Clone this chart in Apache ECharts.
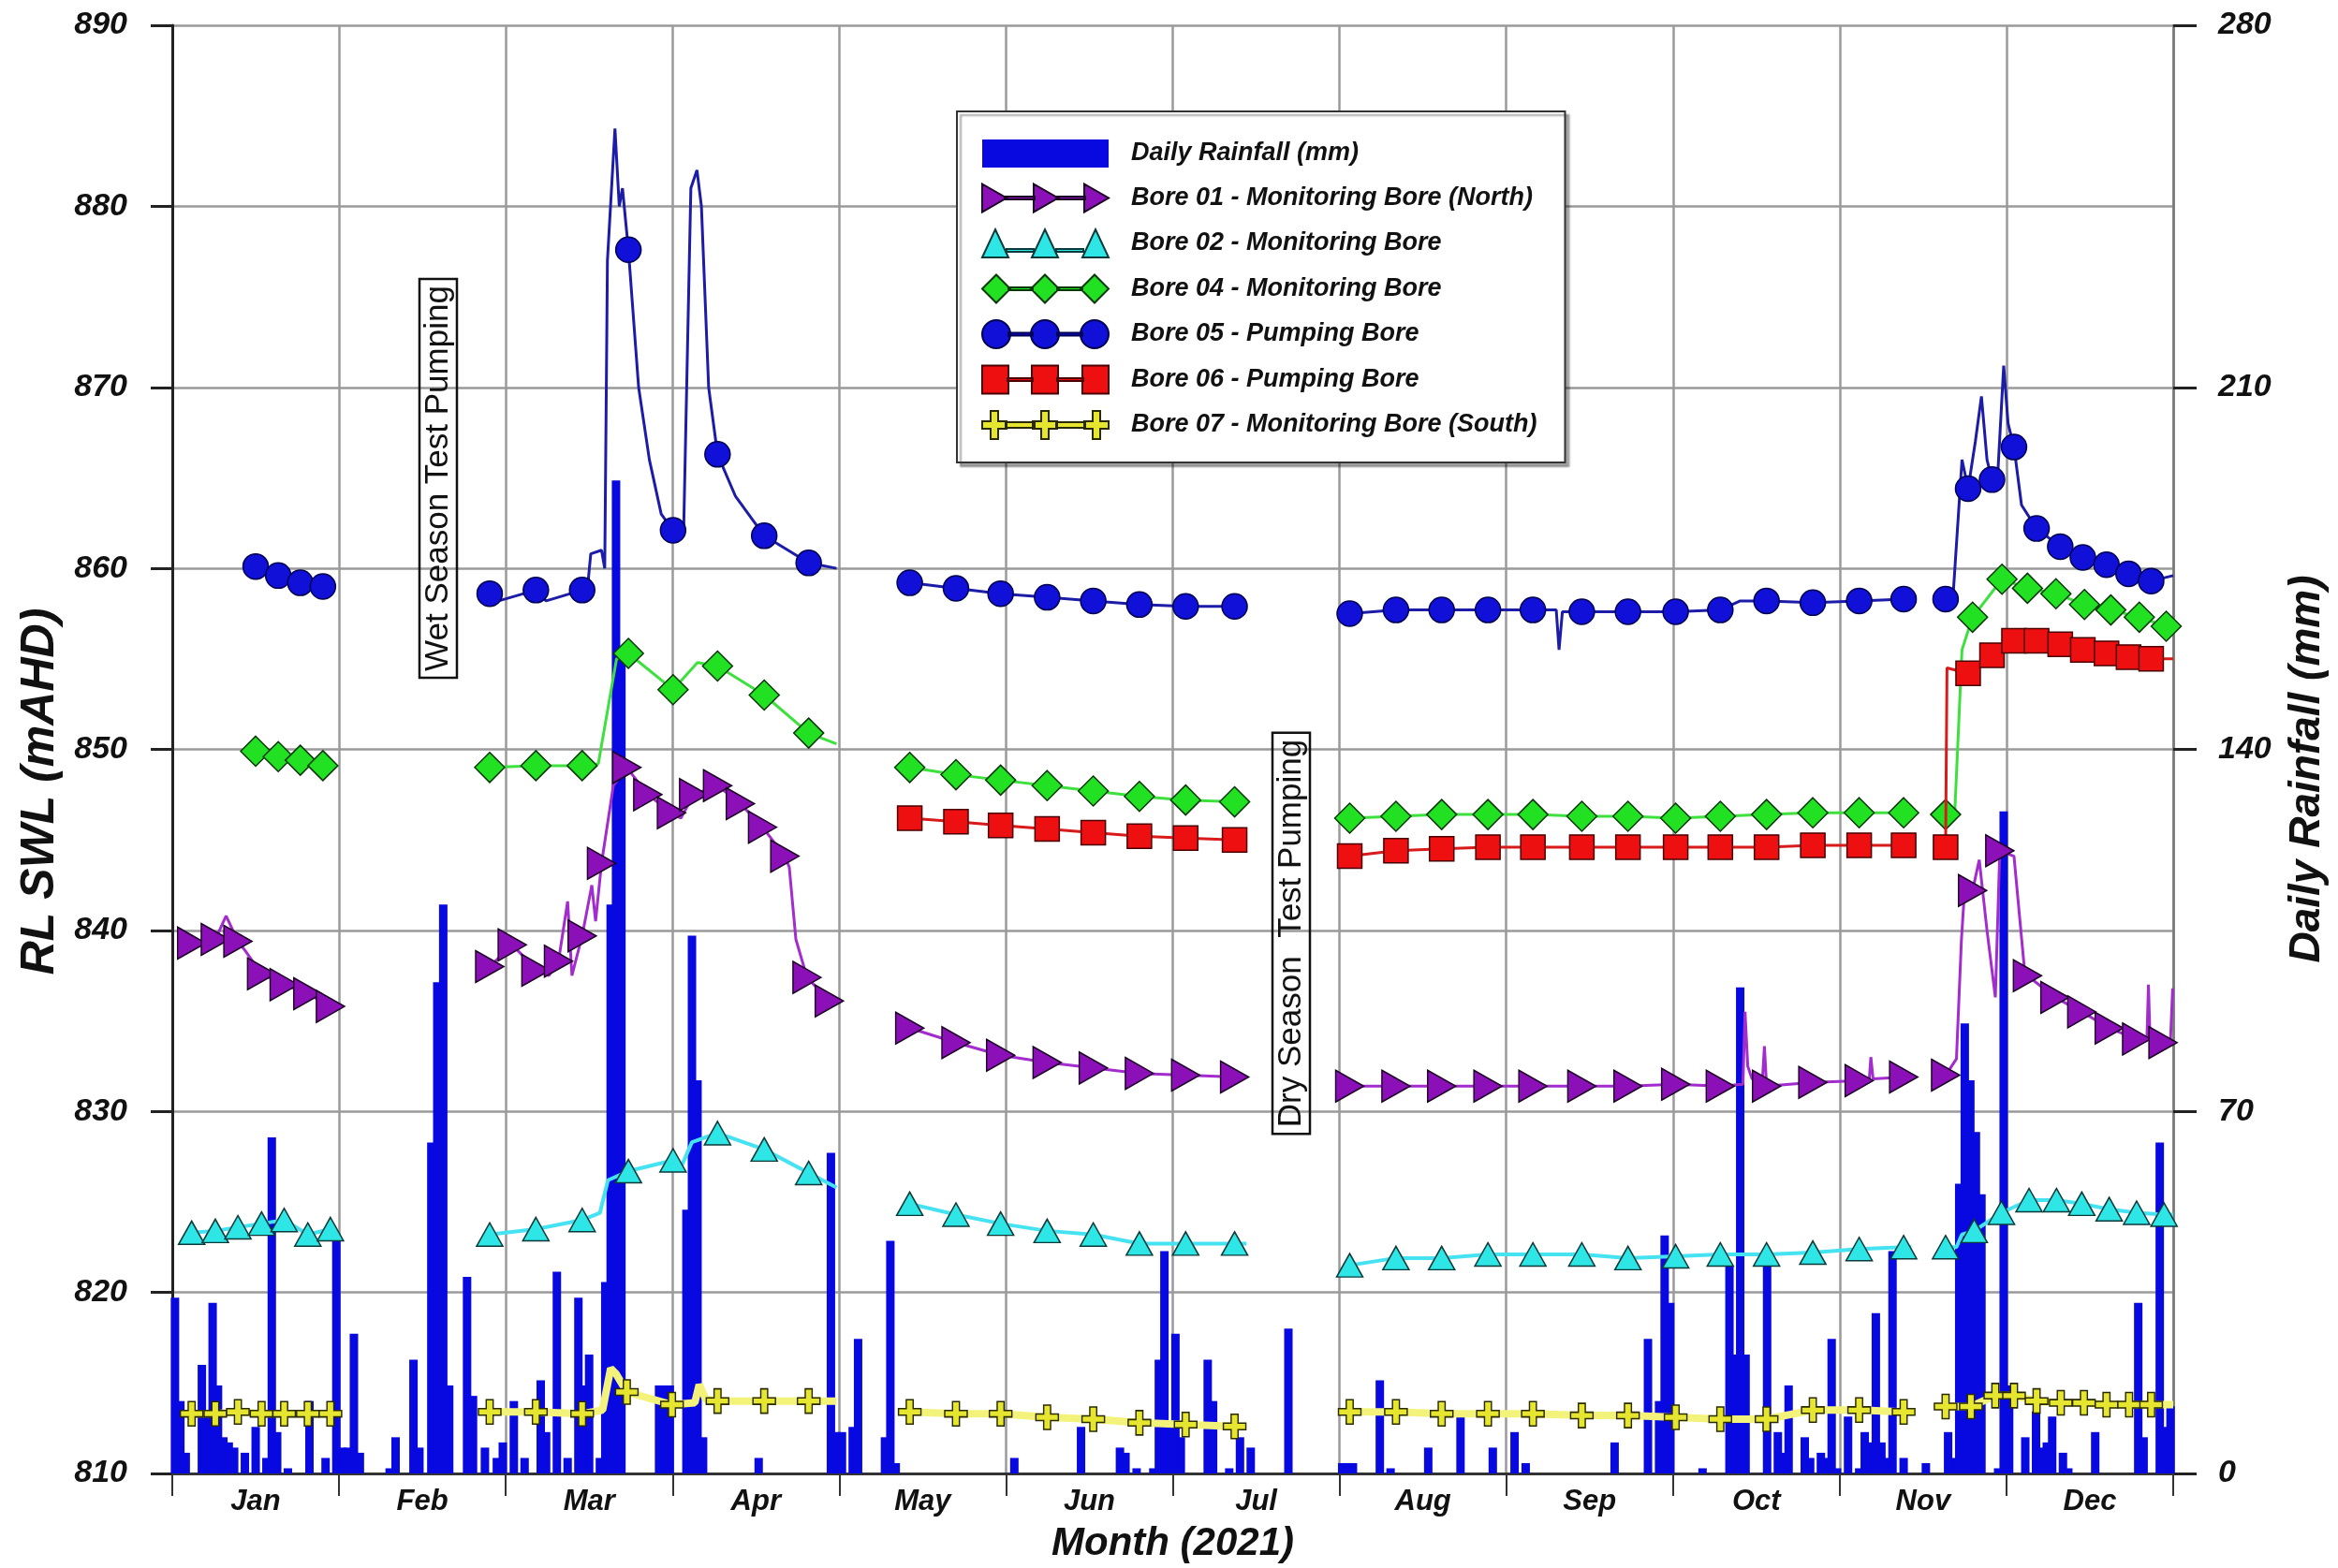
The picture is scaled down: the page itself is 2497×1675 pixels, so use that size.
<!DOCTYPE html>
<html><head><meta charset="utf-8">
<script src="https://cdn.jsdelivr.net/npm/echarts@6/dist/echarts.min.js"></script>
<style>html,body{margin:0;padding:0;background:#fff}#c{width:2497px;height:1675px}</style>
</head><body><div id="c"></div>
<script>
// ---------------- DATA ----------------
const monthNames = ['Jan','Feb','Mar','Apr','May','Jun','Jul','Aug','Sep','Oct','Nov','Dec'];
const monthDays = [31,28,31,30,31,30,31,31,30,31,30,31];
const levelAxis = [810, 890, 10];   // min, max, step (mAHD)
const rainAxis = [0, 280, 70];      // min, max, step (mm)

// daily rainfall (date M/D, mm)
const rainfall = [
['1/1',34],['1/2',14],['1/3',4],['1/6',21],['1/7',12],['1/8',33],['1/9',17],['1/10',7],['1/11',6],['1/12',5],['1/14',4],['1/16',9],['1/18',3],['1/19',65],['1/20',8],['1/22',1],['1/26',14],['1/29',3],['1/31',45],
['2/1',5],['2/2',5],['2/3',27],['2/4',4],['2/9',1],['2/10',7],['2/13',22],['2/14',5],['2/16',64],['2/17',95],['2/18',110],['2/19',17],['2/22',38],['2/23',15],['2/25',5],['2/27',3],['2/28',6],
['3/2',14],['3/4',3],['3/7',18],['3/8',8],['3/10',39],['3/12',3],['3/14',34],['3/15',17],['3/16',23],['3/18',3],['3/19',37],['3/20',110],['3/21',192],['3/22',160],['3/29',17],['3/30',17],['3/31',17],
['4/3',51],['4/4',104],['4/5',76],['4/6',7],['4/16',3],['4/29',62],['4/30',8],
['5/1',8],['5/3',9],['5/4',26],['5/9',7],['5/10',45],['5/11',2],
['6/2',3],['6/14',9],['6/21',5],['6/22',4],['6/24',1],['6/27',1],['6/28',22],['6/29',43],['6/30',10],
['7/1',27],['7/2',7],['7/7',22],['7/8',14],['7/11',1],['7/13',7],['7/15',5],['7/22',28],
['8/1',2],['8/2',2],['8/3',2],['8/8',18],['8/10',1],['8/17',5],['8/23',11],['8/29',5],
['9/2',8],['9/4',2],['9/20',6],['9/26',26],['9/28',14],['9/29',46],['9/30',33],
['10/6',1],['10/11',40],['10/12',23],['10/13',94],['10/14',23],['10/18',41],['10/20',8],['10/21',4],['10/22',17],['10/25',7],['10/26',3],['10/28',4],['10/29',3],['10/30',26],['10/31',1],
['11/2',11],['11/4',1],['11/5',8],['11/6',6],['11/7',31],['11/8',6],['11/9',3],['11/10',43],['11/12',3],['11/16',2],['11/20',8],['11/21',3],['11/22',56],['11/23',87],['11/24',76],['11/25',66],['11/26',54],['11/29',1],['11/30',128],
['12/1',17],['12/4',7],['12/6',12],['12/7',5],['12/8',6],['12/9',11],['12/11',4],['12/12',1],['12/17',8],['12/25',33],['12/26',7],['12/29',64],['12/30',9],['12/31',13]
];

// bore water levels: segments of [date M/D(.fraction), RL mAHD, marker 1/0]
const bore01 = [
 [['1/4.1',839.3,1],['1/8.5',839.5,1],['1/10.5',840.8,0],['1/12.7',839.4,1],['1/14',838.9,0],['1/17.1',837.6,1],['1/21.3',837.0,1],['1/25.7',836.5,1],['1/29.9',835.8,1]],
 [['2/25.8',838.0,1],['3/1.7',839.2,1],['3/4',838.5,0],['3/6.1',837.8,1],['3/8.5',837.5,0],['3/10.3',838.3,1],['3/12',841.6,0],['3/12.8',837.5,0],['3/14.7',839.7,1],['3/16.5',842.5,0],['3/17.2',840.5,0],['3/18.3',843.7,1],['3/20.5',848,0],['3/23',849.0,1],['3/26.9',847.5,1],['3/31.3',846.5,1],['4/2',846.2,0],['4/4.3',847.5,1],['4/8.6',848.0,1],['4/12.7',847.0,1],['4/16.7',845.7,1],['4/20.7',844.1,1],['4/21.5',843.5,0],['4/22.7',839.5,0],['4/24.7',837.4,1],['4/28.7',836.1,1],['4/30',836.0,0]],
 [['5/13.6',834.6,1],['5/22.2',833.8,1],['5/30.5',833.1,1],['6/7.9',832.7,1],['6/16.2',832.4,1],['6/24.5',832.1,1],['7/2.9',832.0,1],['7/12',831.9,1],['7/14.2',831.9,0]],
 [['8/2.4',831.4,1],['8/11',831.4,1],['8/19.5',831.4,1],['8/28.1',831.4,1],['9/5.3',831.4,1],['9/14.1',831.4,1],['9/22.4',831.4,1],['10/1',831.5,1],['10/9.3',831.4,1],['10/13.5',831.5,0],['10/13.9',835.5,0],['10/14.4',832.5,0],['10/15.2',831.8,0],['10/17.1',831.6,0],['10/17.5',833.6,0],['10/17.9',831.4,1],['10/26.5',831.6,1],['11/4',831.7,1],['11/5.8',831.7,0],['11/6.1',833.0,0],['11/6.5',831.8,0],['11/12',831.9,1],['11/13.4',831.9,0]],
 [['11/19.55',832.0,1],['11/21.5',832.9,0],['11/22.4',839.5,0],['11/22.9',841.9,0],['11/24.4',842.2,1],['11/25.6',843.9,0],['11/27',840,0],['11/28.5',836.3,0],['11/29.3',844.4,1],['12/1.9',844.1,0],['12/3.8',838.0,0],['12/4.4',837.5,1],['12/9.5',836.3,1],['12/14.5',835.5,1],['12/19.6',834.6,1],['12/24.7',834.0,1],['12/26.6',833.9,0],['12/26.9',837,0],['12/27.2',833.9,0],['12/29.6',833.8,1],['12/31',834,0],['12/31.4',836.8,0]]
];
const bore02 = [
 [['1/4.1',823.3,1],['1/8.5',823.4,1],['1/12.7',823.6,1],['1/17.1',823.8,1],['1/21.3',824.0,1],['1/25.7',823.2,1],['1/29.9',823.5,1]],
 [['2/25.8',823.2,1],['3/6.1',823.5,1],['3/14.7',824.0,1],['3/18',824.4,0],['3/19.5',826.2,0],['3/23.3',826.7,1],['3/31.6',827.3,1],['4/2',826.9,0],['4/4',828.3,0],['4/8.6',828.8,1],['4/17',827.9,1],['4/25',826.6,1],['4/30',825.8,0]],
 [['5/13.6',824.9,1],['5/22.2',824.3,1],['5/30.5',823.8,1],['6/7.9',823.4,1],['6/16.2',823.2,1],['6/24.5',822.7,1],['7/2.9',822.7,1],['7/12',822.7,1],['7/14.2',822.7,0]],
 [['8/2.4',821.5,1],['8/11',821.9,1],['8/19.5',821.9,1],['8/28.1',822.1,1],['9/5.3',822.1,1],['9/14.1',822.1,1],['9/22.4',821.9,1],['10/1',822.0,1],['10/9.3',822.1,1],['10/17.9',822.1,1],['10/26.5',822.2,1],['11/4',822.4,1],['11/12',822.5,1],['11/13.4',822.5,0]],
 [['11/19.55',822.5,1],['11/21.5',822.5,0],['11/22.5',823.2,0],['11/24.7',823.4,1],['11/29.6',824.4,1],['12/4.7',825.1,1],['12/9.8',825.1,1],['12/14.5',824.9,1],['12/19.6',824.6,1],['12/24.7',824.4,1],['12/29.8',824.3,1],['12/31.5',824.3,0]]
];
const bore04 = [
 [['1/16',849.9,1],['1/20.2',849.6,1],['1/24.3',849.4,1],['1/28.5',849.1,1]],
 [['2/25.8',849.0,1],['3/6.1',849.1,1],['3/14.7',849.1,1],['3/17.7',849.2,0],['3/21.1',855.0,0],['3/23.3',855.3,1],['3/31.6',853.3,1],['4/5',854.8,0],['4/8.6',854.6,1],['4/17',853.0,1],['4/25',850.9,1],['4/30',850.3,0]],
 [['5/13.6',849.0,1],['5/22.2',848.6,1],['5/30.5',848.3,1],['6/7.9',848.0,1],['6/16.2',847.7,1],['6/24.5',847.4,1],['7/2.9',847.2,1],['7/12',847.1,1],['7/14.2',847.1,0]],
 [['8/2.4',846.2,1],['8/11',846.3,1],['8/19.5',846.4,1],['8/28.1',846.4,1],['9/5.3',846.4,1],['9/14.1',846.3,1],['9/22.4',846.3,1],['10/1',846.2,1],['10/9.3',846.3,1],['10/17.9',846.4,1],['10/26.5',846.5,1],['11/4',846.5,1],['11/12',846.5,1],['11/13.4',846.5,0]],
 [['11/19.55',846.4,1],['11/21.2',846.5,0],['11/22.5',855.5,0],['11/24.4',857.3,1],['11/29.7',859.4,1],['12/4.4',858.9,1],['12/9.7',858.6,1],['12/15',858.0,1],['12/19.9',857.7,1],['12/25.2',857.3,1],['12/30.2',856.8,1],['12/31.5',856.7,0]]
];
const bore05 = [
 [['1/16',860.1,1],['1/20.2',859.6,1],['1/24.3',859.2,1],['1/28.5',859.0,1]],
 [['2/25.8',858.6,1],['2/27.3',858.2,0],['3/6.1',858.8,1],['3/8',858.2,0],['3/14.7',858.8,1],['3/15.5',858.3,0],['3/16.3',860.8,0],['3/18.3',861.0,0],['3/18.9',860.0,0],['3/19.4',877,0],['3/20.8',884.3,0],['3/21.6',880,0],['3/22.2',881,0],['3/23.3',877.6,1],['3/25.2',870,0],['3/27.2',866,0],['3/29.4',863,0],['4/0.6',862.1,1],['4/2.5',862,0],['4/3.8',881,0],['4/4.9',882,0],['4/5.7',880,0],['4/7',870,0],['4/8.6',866.3,1],['4/11.8',864,0],['4/17',861.8,1],['4/25',860.3,1],['4/30',860.0,0]],
 [['5/13.6',859.2,1],['5/22.2',858.9,1],['5/30.5',858.6,1],['6/7.9',858.4,1],['6/16.2',858.2,1],['6/24.5',858.0,1],['7/2.9',857.9,1],['7/12',857.9,1],['7/14.2',857.9,0]],
 [['8/2.4',857.5,1],['8/11',857.7,1],['8/19.5',857.7,1],['8/28.1',857.7,1],['9/5.3',857.7,1],['9/9.5',857.7,0],['9/10',855.5,0],['9/10.6',857.6,0],['9/14.1',857.6,1],['9/22.4',857.6,1],['10/1',857.6,1],['10/9.3',857.7,1],['10/13',858.2,0],['10/17.9',858.2,1],['10/26.5',858.1,1],['11/4',858.2,1],['11/12',858.3,1],['11/13.4',858.3,0]],
 [['11/19.55',858.3,1],['11/20.9',858.5,0],['11/22.5',866,0],['11/23.6',864.4,1],['11/24.9',867,0],['11/26',869.5,0],['11/27',866,0],['11/27.9',864.9,1],['11/28.9',865,0],['11/30',871.2,0],['12/0.8',868,0],['12/1.9',866.7,1],['12/3.3',863.5,0],['12/6.1',862.2,1],['12/10.5',861.2,1],['12/14.7',860.6,1],['12/19.1',860.2,1],['12/23.2',859.7,1],['12/27.4',859.3,1],['12/31.5',859.6,0]]
];
const bore06 = [
 [['5/13.6',846.2,1],['5/22.2',846.0,1],['5/30.5',845.8,1],['6/7.9',845.6,1],['6/16.2',845.4,1],['6/24.5',845.2,1],['7/2.9',845.1,1],['7/12',845.0,1],['7/14.2',845.0,0]],
 [['8/2.4',844.1,1],['8/11',844.4,1],['8/19.5',844.5,1],['8/28.1',844.6,1],['9/5.3',844.6,1],['9/14.1',844.6,1],['9/22.4',844.6,1],['10/1',844.6,1],['10/9.3',844.6,1],['10/17.9',844.6,1],['10/26.5',844.7,1],['11/4',844.7,1],['11/12',844.7,1],['11/13.4',844.7,0]],
 [['11/19.55',844.6,1],['11/19.8',854.5,0],['11/23.6',854.2,1],['11/27.9',855.2,1],['12/1.9',856.0,1],['12/6.1',856.0,1],['12/10.5',855.8,1],['12/14.7',855.5,1],['12/19.1',855.3,1],['12/23.2',855.1,1],['12/27.4',855.0,1],['12/31.5',855.0,0]]
];
const bore07 = [
 [['1/4.1',813.3,1],['1/8.5',813.3,1],['1/12.7',813.4,1],['1/17.1',813.3,1],['1/21.3',813.3,1],['1/25.7',813.3,1],['1/29.9',813.3,1]],
 [['2/25.8',813.4,1],['3/6.1',813.4,1],['3/14.7',813.3,1],['3/18.5',813.5,0],['3/20',815.8,0],['3/21',815.5,0],['3/23',814.5,1],['3/31.4',813.8,1],['4/4.5',813.9,0],['4/5.3',814.9,0],['4/6.5',814.1,0],['4/8.6',814.0,1],['4/17',814.0,1],['4/25',814.0,1],['4/30',814.0,0]],
 [['5/13.6',813.4,1],['5/22.2',813.3,1],['5/30.5',813.3,1],['6/7.9',813.1,1],['6/16.2',813.0,1],['6/24.5',812.8,1],['7/2.9',812.7,1],['7/12',812.6,1],['7/14.2',812.6,0]],
 [['8/2.4',813.4,1],['8/11',813.4,1],['8/19.5',813.3,1],['8/28.1',813.3,1],['9/5.3',813.3,1],['9/14.1',813.2,1],['9/22.4',813.2,1],['10/1',813.1,1],['10/9.3',813.0,1],['10/17.9',813.0,1],['10/26.5',813.5,1],['11/4',813.5,1],['11/12',813.4,1],['11/13.4',813.4,0]],
 [['11/19.55',813.7,1],['11/24.1',813.7,1],['11/28.5',814.3,1],['12/1.9',814.3,1],['12/6.1',814.0,1],['12/10.6',813.9,1],['12/14.9',813.9,1],['12/19.1',813.8,1],['12/23.3',813.8,1],['12/27.4',813.8,1],['12/31.5',813.8,0]]
];

const rainName = 'Daily Rainfall (mm)';
const bores = [
 {name:'Bore 01 - Monitoring Bore (North)', data:bore01},
 {name:'Bore 02 - Monitoring Bore', data:bore02},
 {name:'Bore 04 - Monitoring Bore', data:bore04},
 {name:'Bore 05 - Pumping Bore', data:bore05},
 {name:'Bore 06 - Pumping Bore', data:bore06},
 {name:'Bore 07 - Monitoring Bore (South)', data:bore07}
];

// ---------------- STYLES ----------------
const FONT = 'Liberation Sans';
const lineStyles = {
 'Bore 01 - Monitoring Bore (North)': {symbol:'triangle', size:[34,30], rotate:-90, fill:'#8c10b8', border:'#1a0022', line:'#a32ccf', lw:3, z:6,
   icon:'path://M0,0L26,15L0,30Z M24,13.5H56V16.5H24Z M55,0L81,15L55,30Z M79,13.5H110V16.5H79Z M109,0L135,15L109,30Z'},
 'Bore 02 - Monitoring Bore': {symbol:'triangle', size:[28,25], rotate:0, fill:'#2fe6e6', border:'#0b3a3a', line:'#45e2f2', lw:4, z:4,
   icon:'path://M0,30L14,0L28,30Z M26,21H55V24H26Z M53,30L67,0L81,30Z M79,21H108V24H79Z M107,30L121,0L135,30Z'},
 'Bore 04 - Monitoring Bore': {symbol:'diamond', size:[32,32], rotate:0, fill:'#22e022', border:'#063806', line:'#3ee03e', lw:3, z:5,
   icon:'path://M0,15L15,0L30,15L15,30Z M28,13.5H54V16.5H28Z M52,15L67,0L82,15L67,30Z M80,13.5H107V16.5H80Z M105,15L120,0L135,15L120,30Z'},
 'Bore 05 - Pumping Bore': {symbol:'circle', size:27, rotate:0, fill:'#1010d8', border:'#000050', line:'#1c1ca8', lw:3, z:7,
   icon:'path://M0,15A15,15 0 1,0 30,15A15,15 0 1,0 0,15Z M28,13.5H54V16.5H28Z M52,15A15,15 0 1,0 82,15A15,15 0 1,0 52,15Z M80,13.5H107V16.5H80Z M105,15A15,15 0 1,0 135,15A15,15 0 1,0 105,15Z'},
 'Bore 06 - Pumping Bore': {symbol:'rect', size:[26,26], rotate:0, fill:'#ee1010', border:'#4a0000', line:'#d81a1a', lw:3, z:6,
   icon:'path://M0,0H28V30H0Z M27,13.5H54V16.5H27Z M53,0H81V30H53Z M80,13.5H108V16.5H80Z M107,0H135V30H107Z'},
 'Bore 07 - Monitoring Bore (South)': {symbol:'path://M9,0H17V11H26V19H17V30H9V19H0V11H9Z', size:[24,26], rotate:0, fill:'#e6e630', border:'#2a2a00', line:'#f3f37c', lw:8, z:3,
   icon:'path://M9,0H17V11H26V19H17V30H9V19H0V11H9Z M25,12H56V18H25Z M63,0H71V11H80V19H71V30H63V19H54V11H63Z M79,12H110V18H79Z M118,0H126V11H135V19H126V30H118V19H109V11H118Z'}
};
const rainColor = '#0808e0';

// ---------------- BUILD ----------------
function pos(d){ const p = d.split('/'); const m = +p[0], day = +p[1]; return (m-1) + (day-0.5)/monthDays[m-1]; }

const series = [];
series.push({
  name: rainName, type:'bar', xAxisIndex:0, yAxisIndex:1, barWidth:9, z:1,
  itemStyle:{color:rainColor}, data: rainfall.map(r => [pos(r[0]), r[1]]), animation:false
});
bores.forEach(b => {
  const s = lineStyles[b.name];
  b.data.forEach(seg => {
    series.push({
      name:b.name, type:'line', xAxisIndex:0, yAxisIndex:0, z:s.z, animation:false,
      symbol:s.symbol, symbolSize:s.size, symbolRotate:s.rotate, showAllSymbol:true,
      itemStyle:{color:s.fill, borderColor:s.border, borderWidth:1.5, opacity:1},
      lineStyle:{color:s.line, width:s.lw},
      emphasis:{disabled:true},
      data: seg.map(p => p[2] ? {value:[pos(p[0]), p[1]]} : {value:[pos(p[0]), p[1]], symbol:'none'})
    });
  });
});

const axisFont = {fontFamily:FONT, fontStyle:'italic', fontWeight:'bold', color:'#111'};
const option = {
  animation:false,
  backgroundColor:'#fff',
  grid:{left:184, right:176, top:27, bottom:98, containLabel:false},
  xAxis:[
    {type:'value', min:0, max:12, interval:1, position:'bottom',
     axisLine:{show:true, lineStyle:{color:'#333', width:3}},
     axisTick:{show:true, length:24, lineStyle:{color:'#333', width:2}},
     axisLabel:{show:false},
     splitLine:{show:true, lineStyle:{color:'#9a9a9a', width:2.5}}},
    {type:'category', data:monthNames, position:'bottom', boundaryGap:true,
     axisLine:{show:false}, axisTick:{show:false}, splitLine:{show:false},
     axisLabel:Object.assign({fontSize:31, margin:15}, axisFont),
     name:'Month (2021)', nameLocation:'middle', nameGap:54,
     nameTextStyle:Object.assign({fontSize:42}, axisFont)}
  ],
  yAxis:[
    {type:'value', position:'left', min:levelAxis[0], max:levelAxis[1], interval:levelAxis[2],
     axisLine:{show:true, lineStyle:{color:'#222', width:3}},
     axisTick:{show:true, length:23, lineStyle:{color:'#222', width:3}},
     axisLabel:Object.assign({fontSize:34, margin:48}, axisFont),
     splitLine:{show:true, lineStyle:{color:'#9a9a9a', width:2.5}},
     name:'RL SWL (mAHD)', nameLocation:'middle', nameRotate:90, nameGap:112,
     nameTextStyle:Object.assign({fontSize:50, padding:[0,90,0,0]}, axisFont)},
    {type:'value', position:'right', min:rainAxis[0], max:rainAxis[1], interval:rainAxis[2],
     axisLine:{show:true, lineStyle:{color:'#777', width:2.5}},
     axisTick:{show:true, length:25, lineStyle:{color:'#222', width:3}},
     axisLabel:Object.assign({fontSize:34, margin:48}, axisFont),
     splitLine:{show:false},
     name:'Daily Rainfall (mm)', nameLocation:'middle', nameRotate:90, nameGap:120,
     nameTextStyle:Object.assign({fontSize:46, padding:[0,42,0,0]}, axisFont)}
  ],
  legend:{
    orient:'vertical', left:1022, top:119,
    itemWidth:135, itemHeight:30, itemGap:16.5,
    padding:[30, 30, 24, 26],
    backgroundColor:'#fff', borderColor:'#333', borderWidth:2,
    shadowColor:'rgba(0,0,0,0.35)', shadowOffsetX:4, shadowOffsetY:4, shadowBlur:2,
    selectedMode:false,
    textStyle:Object.assign({fontSize:27, lineHeight:30, padding:[0,0,0,19]}, axisFont),
    data:[{name:rainName, icon:'rect'}].concat(bores.map(b => ({name:b.name, icon:lineStyles[b.name].icon})))
  },
  graphic:[
    {type:'text', x:468, y:511, rotation:Math.PI/2, z:100,
     style:{text:'Wet Season Test Pumping', font:'35px "Liberation Sans"', fill:'#111', align:'center', verticalAlign:'middle',
            borderColor:'#111', borderWidth:2.5, padding:[3,7,2,7]}},
    {type:'text', x:1379, y:997, rotation:Math.PI/2, z:100,
     style:{text:'Dry Season  Test Pumping', font:'35px "Liberation Sans"', fill:'#111', align:'center', verticalAlign:'middle',
            borderColor:'#111', borderWidth:2.5, padding:[3,7,2,7]}}
  ],
  series:series
};
const chart = echarts.init(document.getElementById('c'), null, {renderer:'canvas'});
chart.setOption(option);
</script>
</body></html>
